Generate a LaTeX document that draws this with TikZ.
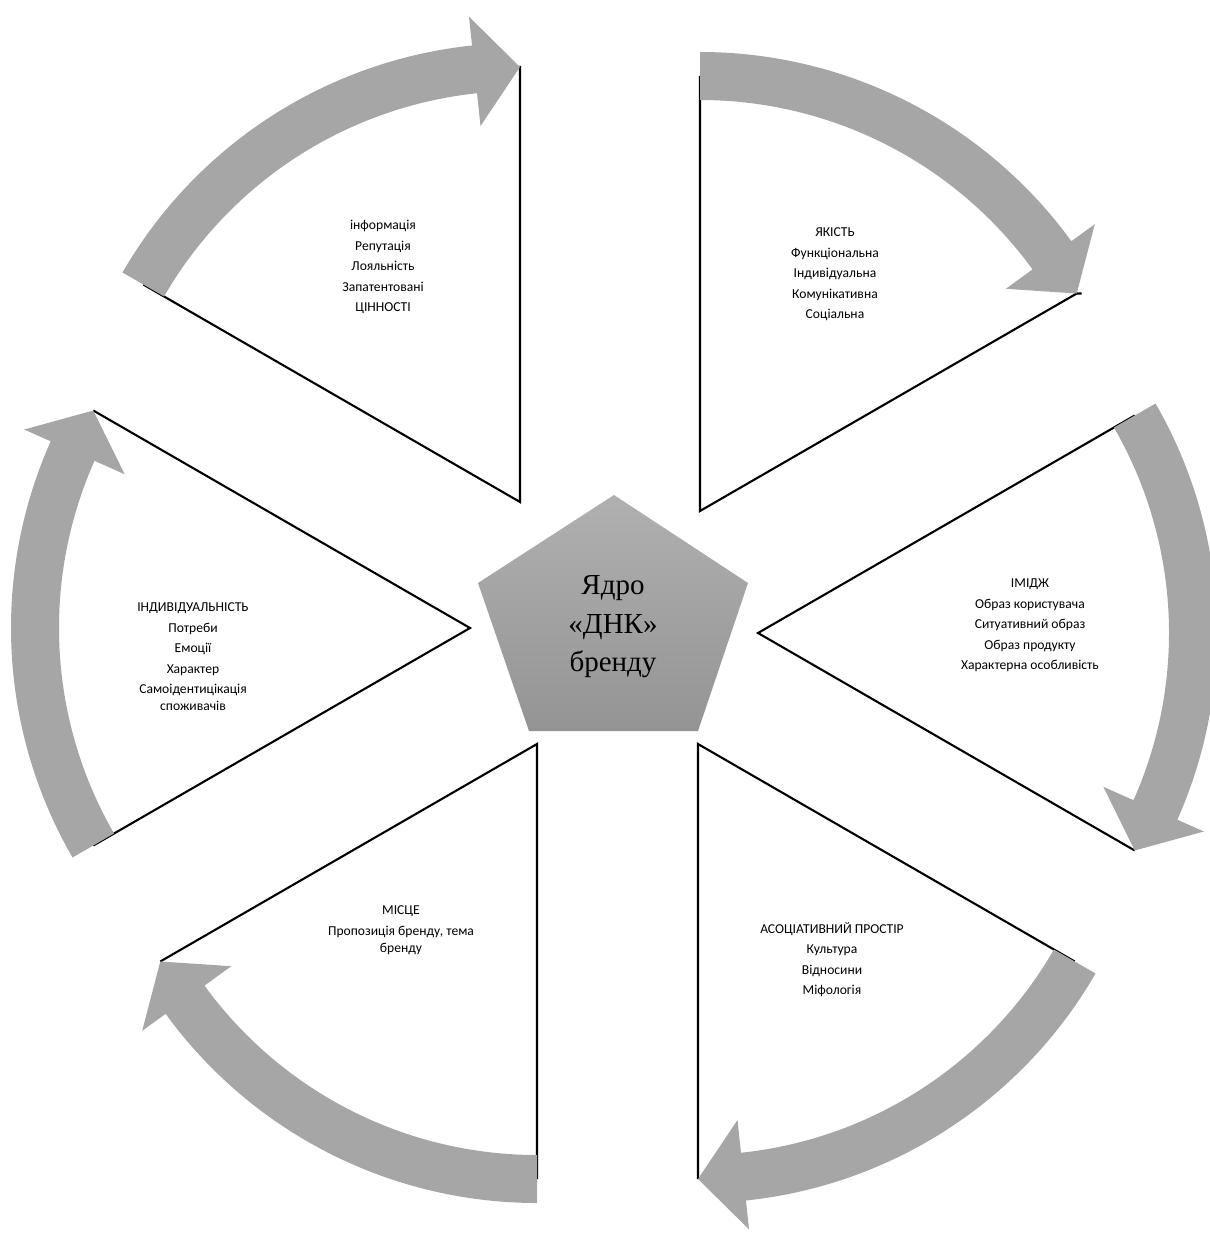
\documentclass[tikz,border=0pt]{standalone}
\usepackage{fontspec}
\setmainfont{Carlito}
\newfontfamily\coreserif{Liberation Serif}
\usetikzlibrary{calc}
\definecolor{arrowgray}{HTML}{A6A6A6}
\definecolor{coretop}{HTML}{B0B0B0}
\definecolor{corebot}{HTML}{949494}
\newcommand\cycarrow[2]{%
  \pgfmathsetmacro\tA{#2}%
  \pgfmathsetmacro\tC{#2-60}%
  \pgfmathsetmacro\tB{#2-54}%
  \fill[arrowfill] ($(#1)+(\tA:459)$) arc[start angle=\tA, end angle=\tB, radius=459pt]
     -- ($(#1)+(\tB:488)$) -- ($(#1)+(\tC:435)$) -- ($(#1)+(\tB:378)$) -- ($(#1)+(\tB:411)$)
     arc[start angle=\tB, end angle=\tA, radius=411pt] -- cycle;
}
\begin{document}
\begin{tikzpicture}[x=1pt,y=1pt,
  edge/.style={line width=2.1pt, black, line join=miter},
  arrowfill/.style={fill=arrowgray, draw=none},
  wedgetext/.style={font=\fontsize{13.6}{20.5}\selectfont, align=center, inner sep=0pt},
  coretext/.style={font=\coreserif\fontsize{29}{38.5}\selectfont, align=center, inner sep=0pt}]
\useasboundingbox (0,0) rectangle (1209,-1233);
% apexes of the six wedges
\coordinate (a1) at (520,-502);
\coordinate (a2) at (700,-511);
\coordinate (a3) at (758,-633);
\coordinate (a4) at (698,-744);
\coordinate (a5) at (537,-744);
\coordinate (a6) at (470,-628);
% wedge edges
\draw[edge] ($(a1)+(150:435)$) -- (a1) -- ($(a1)+(90:435)$) coordinate (t1) -- ++(-6,0);
\draw[edge] ($(a2)+(90:435)$) -- (a2) -- ($(a2)+(30:435)$) coordinate (t2) -- ++(5,0);
\draw[edge] ($(a3)+(30:435)$) -- (a3) -- ($(a3)+(-30:435)$);
\draw[edge] ($(a4)+(-30:435)$) -- (a4) -- ($(a4)+(-90:435)$);
\draw[edge] ($(a5)+(-90:435)$) -- (a5) -- ($(a5)+(-150:435)$);
\draw[edge] ($(a6)+(210:435)$) -- (a6) -- ($(a6)+(150:435)$);
% circular arrows
\cycarrow{a1}{150}
\cycarrow{a2}{90}
\cycarrow{a3}{30}
\cycarrow{a4}{-30}
\cycarrow{a5}{-90}
\cycarrow{a6}{210}
% core pentagon
\shade[top color=coretop, bottom color=corebot]
  (614,-495) -- (748,-583) -- (698,-731) -- (529,-731) -- (478,-583) -- cycle;
\node[coretext] (core) at (613,-627) {Ядро\\«ДНК»\\бренду};
% wedge texts
\node[wedgetext] (w1) at (383,-267) {інформація\\Репутація\\Лояльність\\Запатентовані\\ЦІННОСТІ};
\node[wedgetext] (w2) at (835,-274.5) {ЯКІСТЬ\\Функціональна\\Індивідуальна\\Комунікативна\\Соціальна};
\node[wedgetext] (w3) at (1030,-625.5) {ІМІДЖ\\Образ користувача\\Ситуативний образ\\Образ продукту\\Характерна особливість};
\node[wedgetext] (w4) at (832,-959.5) {АСОЦІАТИВНИЙ ПРОСТІР\\Культура\\Відносини\\Міфологія};
\node[wedgetext] (w5) at (401,-930) {МІСЦЕ\\Пропозиція бренду, тема\\[-3.5pt]бренду};
\node[wedgetext] (w6) at (193,-657) {ІНДИВІДУАЛЬНІСТЬ\\Потреби\\Емоції\\Характер\\Самоідентицікація\\[-3.5pt]споживачів};
\end{tikzpicture}
\end{document}
